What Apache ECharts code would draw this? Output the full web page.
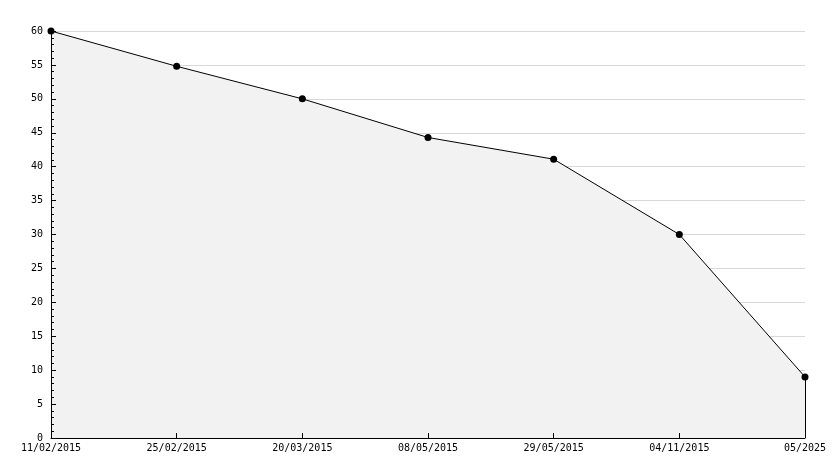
<!DOCTYPE html>
<html>
<head>
<meta charset="utf-8">
<script src="https://cdn.jsdelivr.net/npm/echarts@6/dist/echarts.min.js"></script>
<style>html,body{margin:0;padding:0;background:#fff}#c{width:834px;height:468px}</style>
</head>
<body>
<div id="c"></div>
<script>
const categories = ['11/02/2015','25/02/2015','20/03/2015','08/05/2015','29/05/2015','04/11/2015','05/2025'];
const values = [60, 54.8, 50, 44.3, 41.1, 30, 9];
const yMin = 0, yMax = 60, yStep = 5;

const chart = echarts.init(document.getElementById('c'), null, {renderer:'canvas'});
const font = {fontFamily:'DejaVu Sans Mono', fontSize:10, color:'#000'};
chart.setOption({
  animation:false,
  grid:{left:51, right:29, top:31, bottom:30},
  xAxis:{
    type:'category', data:categories, boundaryGap:false, z:10,
    axisLine:{lineStyle:{color:'#000', width:1}},
    axisTick:{show:true, inside:true, length:5, alignWithLabel:true, lineStyle:{color:'#000'}},
    axisLabel:Object.assign({margin:5, interval:0}, font),
    splitLine:{show:false}
  },
  yAxis:[{
    type:'value', min:yMin, max:yMax, interval:yStep, z:0,
    axisLine:{show:false},
    axisTick:{show:false},
    axisLabel:Object.assign({margin:8}, font),
    splitLine:{show:true, lineStyle:{color:'#d8d8d8', width:1}}
  },{
    type:'value', min:yMin, max:yMax, interval:yStep, z:10, position:'left',
    axisLine:{show:true, lineStyle:{color:'#000', width:1}},
    axisTick:{show:true, inside:true, length:5, lineStyle:{color:'#000'}},
    minorTick:{show:true, splitNumber:5, length:3, lineStyle:{color:'#000'}},
    axisLabel:{show:false},
    splitLine:{show:false}
  }],
  series:[{
    type:'line', data:values, z:2, yAxisIndex:0,
    lineStyle:{color:'#000', width:1},
    areaStyle:{color:'#f2f2f2', opacity:1},
    symbol:'circle', symbolSize:7, showSymbol:true,
    itemStyle:{color:'#000', borderWidth:0}
  },{
    type:'line', data:values.map((v,i)=> i===values.length-1 ? v : null), z:3, yAxisIndex:0,
    markLine:{silent:true, symbol:'none', label:{show:false},
      lineStyle:{color:'#000', width:1, type:'solid'},
      data:[[{coord:[categories.length-1, values[values.length-1]]},{coord:[categories.length-1, yMin]}]]},
    symbol:'none', lineStyle:{width:0}
  }]
});
</script>
</body>
</html>
